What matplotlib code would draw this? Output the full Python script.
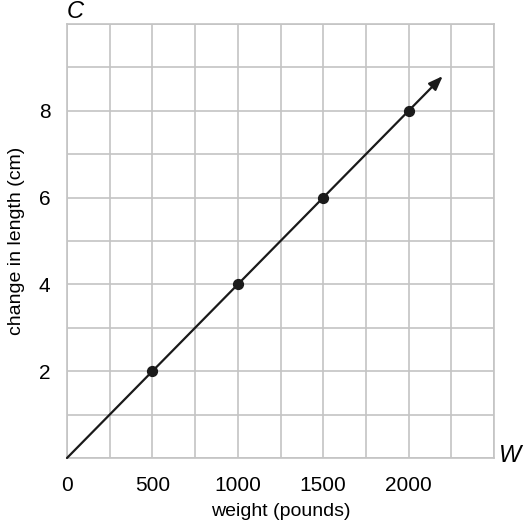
import matplotlib
matplotlib.use('Agg')
import matplotlib.pyplot as plt

plt.rcParams['font.family'] = ['Liberation Sans', 'DejaVu Sans']

# datos
peso = [500, 1000, 1500, 2000]
cambio = [2, 4, 6, 8]
linea_x = [0, 2200]
linea_y = [0, 8.8]
xticks = [0, 500, 1000, 1500, 2000]
yticks = [2, 4, 6, 8]

fig = plt.figure(figsize=(5.25, 5.3), dpi=100)
ax = fig.add_axes([67 / 525, 1 - 458 / 530, (494 - 67) / 525, (458 - 24) / 530])

ax.set_xlim(0, 2500)
ax.set_ylim(0, 10)
ax.set_xticks(range(0, 2501, 250))
ax.set_yticks(range(0, 11))
ax.grid(color='#c4c4c4', linewidth=1.2)
for s in ax.spines.values():
    s.set_color('#c4c4c4')
    s.set_linewidth(1.2)
ax.tick_params(axis='x', length=0, labelsize=15, pad=13)
ax.tick_params(axis='y', length=0, labelsize=15, pad=12)
ax.set_xticklabels([str(v) if v in xticks else '' for v in range(0, 2501, 250)])
ax.set_yticklabels([str(v) if v in yticks else '' for v in range(0, 11)])

ax.annotate('', xy=(linea_x[1], linea_y[1]), xytext=(linea_x[0], linea_y[0]),
            arrowprops=dict(arrowstyle='-|>,head_length=0.85,head_width=0.32',
                            color='#1a1a1a', lw=1.6, shrinkA=0, shrinkB=0))
ax.scatter(peso, cambio, s=50, color='#1a1a1a', zorder=5, clip_on=False)

ax.set_xlabel('weight (pounds)', fontsize=14, labelpad=6)
ax.set_ylabel('change in length (cm)', fontsize=14, labelpad=10)
fig.text(75 / 525, 1 - 12 / 530, 'C', fontsize=17, style='italic', ha='center', va='center')
fig.text(510 / 525, 1 - 455 / 530, 'W', fontsize=17, style='italic', ha='center', va='center')

plt.savefig('out.png', dpi=100)
